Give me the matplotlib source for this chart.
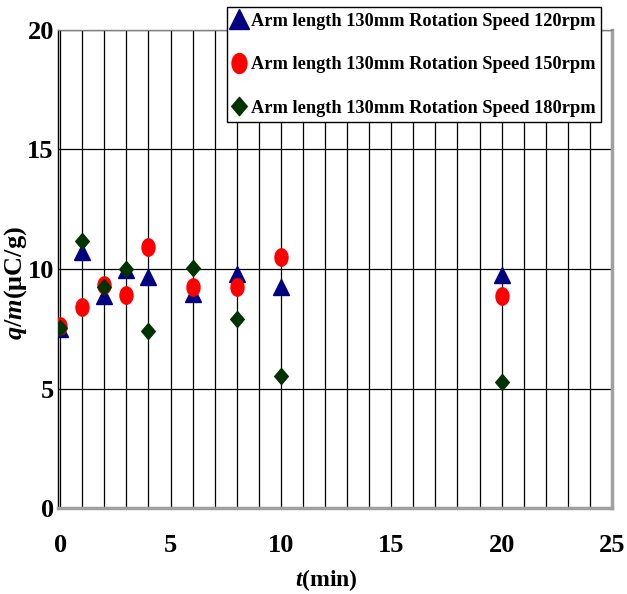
import matplotlib
matplotlib.use("Agg")
import matplotlib.pyplot as plt
from matplotlib.path import Path
from matplotlib.transforms import Affine2D

plt.rcParams['font.family'] = ['Liberation Serif', 'DejaVu Serif']
plt.rcParams['font.weight'] = 'bold'
plt.rcParams['mathtext.fontset'] = 'custom'
plt.rcParams['mathtext.it'] = 'Liberation Serif:italic:bold'
plt.rcParams['mathtext.rm'] = 'Liberation Serif:bold'
plt.rcParams['mathtext.bf'] = 'Liberation Serif:bold'

# Data
t_min = [0, 1, 2, 3, 4, 6, 8, 10, 20]
qm_120 = [7.5, 10.72, 8.85, 9.95, 9.68, 8.95, 9.8, 9.26, 9.75]
qm_150 = [7.62, 8.42, 9.33, 8.9, 10.93, 9.26, 9.23, 10.51, 8.87]
qm_180 = [7.55, 11.18, 9.25, 10.02, 7.41, 10.03, 7.9, 5.52, 5.29]
labels = ["Arm length 130mm Rotation Speed 120rpm",
          "Arm length 130mm Rotation Speed 150rpm",
          "Arm length 130mm Rotation Speed 180rpm"]
xticks = [0, 5, 10, 15, 20, 25]
yticks = [0, 5, 10, 15, 20]

ellipse = Path.unit_circle().transformed(Affine2D().scale(0.75, 1.0))
diamond = Path([(0, -1), (0.85, 0), (0, 1), (-0.85, 0), (0, -1)],
               [Path.MOVETO, Path.LINETO, Path.LINETO, Path.LINETO, Path.CLOSEPOLY])

fig = plt.figure(figsize=(6.27, 5.94), dpi=100)
ax = fig.add_axes([58/627, 1-508/594, (612-58)/627, (508-30)/594])

for xv in range(0, 26):
    ax.axvline(xv, color='black', lw=0.9, zorder=1)
for yv in [5, 10, 15, 20]:
    ax.axhline(yv, color='black', lw=0.9, zorder=1)

ax.plot(t_min, qm_120, linestyle='none', marker='^', color='#000080', markersize=12, label=labels[0], zorder=3)
ax.plot(t_min, qm_150, linestyle='none', marker=ellipse, color='#ff0000', markersize=12.5, label=labels[1], zorder=3)
ax.plot(t_min, qm_180, linestyle='none', marker=diamond, color='#003300', markersize=11.5, label=labels[2], zorder=4)

ax.set_xlim(-0.1, 25)
ax.set_ylim(0, 20)
ax.set_xticks(xticks)
ax.set_yticks(yticks)
ax.tick_params(axis='x', length=0, pad=19, labelsize=19)
ax.tick_params(axis='y', length=0, pad=3, labelsize=19)
for lab in ax.get_xticklabels() + ax.get_yticklabels():
    lab.set_fontweight('bold')

ax.spines['left'].set_color('black')
ax.spines['left'].set_linewidth(1.0)
ax.spines['top'].set_color('#808080')
ax.spines['top'].set_linewidth(1.0)
ax.spines['right'].set_color('#a0a0a0')
ax.spines['right'].set_linewidth(2.5)
ax.spines['bottom'].set_color('#a0a0a0')
ax.spines['bottom'].set_linewidth(2.5)

ax.set_xlabel(r'$t$(min)', fontsize=17, fontweight='bold')
ax.xaxis.set_label_coords((326-58)/554, (508-580)/478)
ax.xaxis.label.set_va('center')
ax.set_ylabel(r'$q/m$(μC/g)', fontsize=19, fontweight='bold')
ax.yaxis.set_label_coords((16-58)/554, (508-283)/478)
ax.yaxis.label.set_va('center')

leg = ax.legend(loc='upper left', bbox_to_anchor=(227/627, 1-7/594), bbox_transform=fig.transFigure,
                fancybox=False, framealpha=1, edgecolor='black', prop={'size': 13.2, 'weight': 'bold'},
                handlelength=0.7, handletextpad=0.3, labelspacing=1.45, borderpad=0.3,
                borderaxespad=0, markerscale=1.15)
leg.get_frame().set_linewidth(1.0)
leg.set_zorder(10)

fig.savefig('out.png', dpi=100)
